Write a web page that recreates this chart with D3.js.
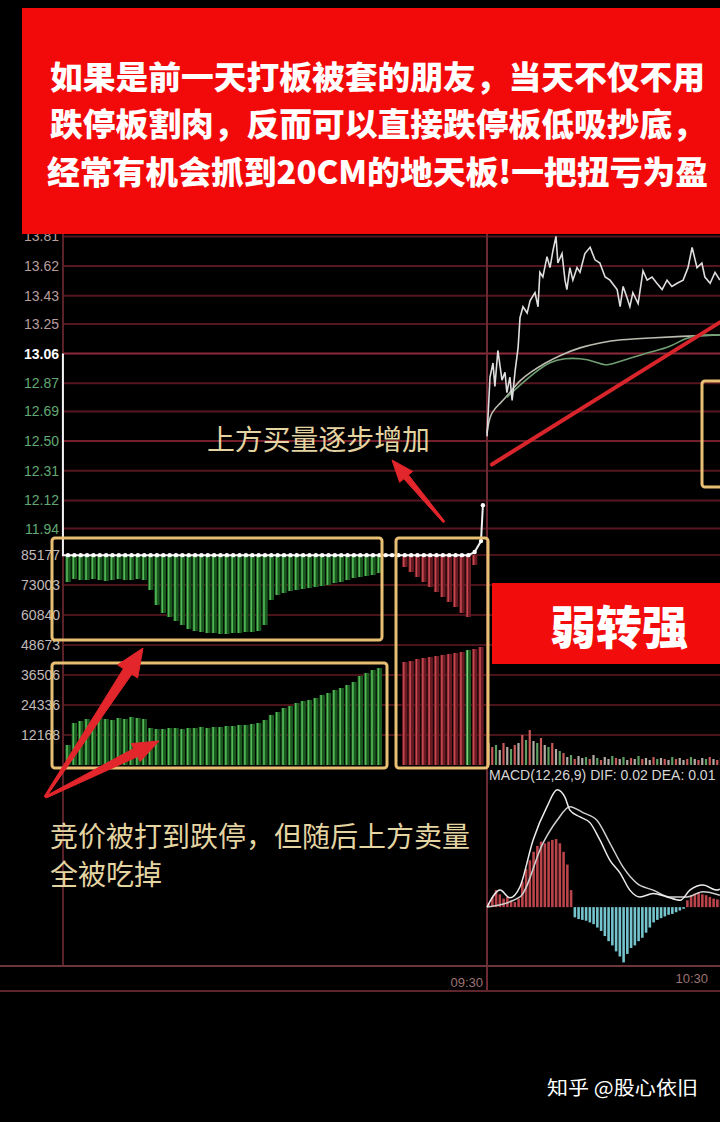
<!DOCTYPE html>
<html>
<head>
<meta charset="utf-8">
<script src="https://cdn.jsdelivr.net/npm/d3@7"></script>
<style>
  html, body { margin: 0; padding: 0; background: #000; }
  svg { display: block; }
</style>
</head>
<body>
<div id="wrapper"></div>
<script>
// ---- data ----
const prevClose = 13.06;
const priceTicks = [13.81, 13.62, 13.43, 13.25, 13.06, 12.87, 12.69, 12.50, 12.31, 12.12, 11.94];
const volTicks = [85177, 73003, 60840, 48673, 36506, 24336, 12168];
const timeLabels = ["09:30", "10:30"];
const timeLabelMinute = [0, 60];

// call auction, one slot per bar (early phase slots 0..49, late phase from slot 53)
const auctionEarlyUnmatched = [
  10950, 9730, 10140, 10140, 9730, 10140, 10550, 10140, 9730, 10140,
  10140, 9730, 10140, 14200, 20280, 23520, 25150, 26770, 28390, 30010,
  30830, 31230, 31640, 31640, 32040, 32040, 31640, 31640, 31230, 31230,
  30830, 28390, 18250, 16220, 15410, 14600, 14200, 13790, 13380, 12980,
  12570, 12170, 11360, 10950, 10140, 9330, 8920, 8520, 8110, 7300
];
const auctionEarlyVolume = [
  8110, 17040, 17850, 18660, 18250, 19060, 18660, 18250, 19060, 18660,
  19470, 19060, 18660, 15010, 14600, 14600, 15010, 15010, 14600, 15010,
  15010, 15410, 15010, 15410, 15410, 15820, 15820, 16220, 16220, 16630,
  17040, 18250, 20280, 21500, 23120, 23930, 25150, 25960, 26360, 27180,
  28390, 29200, 30420, 31230, 32450, 33660, 36100, 37320, 38530, 39340
];
const auctionLateStart = 53;
const auctionLateUnmatched = [4870, 6900, 8920, 10950, 12980, 15010, 17040, 19060, 21090, 23520, 25150, 4060, 0];
const auctionLateVolume = [41780, 42180, 42990, 43400, 43800, 44210, 44620, 45020, 45430, 45830, 46640, 47050, 47860];
const auctionLateUp = [true, true, true, true, true, true, true, true, true, true, false, true, true];
const auctionPrice = [
  11.77, 11.77, 11.77, 11.77, 11.77, 11.77, 11.77, 11.77, 11.77, 11.77,
  11.77, 11.77, 11.77, 11.77, 11.77, 11.77, 11.77, 11.77, 11.77, 11.77,
  11.77, 11.77, 11.77, 11.77, 11.77, 11.77, 11.77, 11.77, 11.77, 11.77,
  11.77, 11.77, 11.77, 11.77, 11.77, 11.77, 11.77, 11.77, 11.77, 11.77,
  11.77, 11.77, 11.77, 11.77, 11.77, 11.77, 11.77, 11.77, 11.77, 11.77,
  11.77, 11.77, 11.77, 11.77, 11.77, 11.77, 11.77, 11.77, 11.77, 11.77,
  11.77, 11.77, 11.77, 11.77, 11.79, 11.86
];
const auctionClose = 12.09;

// continuous trading, minutes after 09:30
const priceMinute = [
  0, 0.4, 0.8, 1.6, 2.1, 2.9, 4.0, 4.8, 5.3, 6.1,
  6.7, 7.5, 8.3, 8.8, 9.6, 10.7, 11.5, 12.8, 13.6, 14.1,
  14.9, 16.0, 16.8, 17.6, 18.4, 18.9, 20.0, 20.8, 21.3, 22.1,
  22.9, 24.0, 24.8, 26.1, 27.5, 28.8, 30.1, 31.5, 32.8, 34.7,
  35.5, 36.3, 37.3, 38.1, 38.9, 40.3, 41.6, 42.7, 44.0, 45.3,
  46.7, 48.0, 49.3, 50.7, 52.3, 53.6, 54.7, 56.0, 57.3, 58.1,
  59.5, 60.8, 62.1
];
const priceValue = [
  12.53, 12.72, 12.91, 13.00, 12.85, 13.08, 12.89, 12.94, 12.81, 12.91,
  12.76, 12.95, 13.10, 13.29, 13.36, 13.32, 13.40, 13.45, 13.36, 13.58,
  13.55, 13.68, 13.61, 13.72, 13.81, 13.64, 13.70, 13.53, 13.47, 13.61,
  13.53, 13.61, 13.58, 13.70, 13.74, 13.66, 13.64, 13.55, 13.53, 13.47,
  13.36, 13.49, 13.42, 13.36, 13.45, 13.38, 13.59, 13.53, 13.55, 13.51,
  13.47, 13.53, 13.49, 13.51, 13.53, 13.61, 13.74, 13.61, 13.64, 13.55,
  13.51, 13.58, 13.53
];
const avgMinute = [0, 0.8, 3.5, 6.1, 8.8, 11.5, 15.5, 19.5, 24.8, 30.1, 35.5, 43.5, 51.5, 62.1];
const avgPrice = [12.55, 12.68, 12.74, 12.81, 12.89, 12.94, 13.00, 13.05, 13.10, 13.13, 13.15, 13.16, 13.17, 13.18];
const maMinute = [5.3, 8.8, 12.8, 16.8, 20.8, 24.8, 28.8, 31.5, 34.1, 38.1, 43.5, 48.8, 52.8, 56.8, 62.1];
const maPrice = [12.78, 12.86, 12.94, 13.01, 13.03, 13.03, 13.01, 12.98, 13.00, 13.03, 13.07, 13.10, 13.16, 13.18, 13.18];

const tradeVolume = [
  8920, 7300, 8110, 6080, 8920, 7300, 6490, 8110, 8920, 12170,
  10140, 14200, 9730, 8920, 10950, 8110, 7300, 8920, 6490, 5680,
  4870, 3240, 4060, 2430, 3650, 2840, 3240, 2430, 4060, 2840,
  2030, 3240, 2430, 3650, 2840, 2430, 3240, 2030, 2840, 2430,
  3650, 2430, 2840, 2030, 3240, 2430, 2840, 2430, 2030, 3240,
  2430, 2840, 2030, 2430, 3240, 2430, 2030, 2840, 2430, 3240,
  2430, 2030, 2840
];
const tradeDir = [
  0, 1, -1, 0, 1, 0, -1, 1, 0, 1,
  -1, 1, 0, -1, 1, 0, -1, 1, 0, -1,
  1, 0, -1, 1, 0, 0, -1, 1, 0, -1,
  1, 0, 0, -1, 1, 0, -1, 0, 1, 0,
  -1, 1, 0, 0, 1, -1, 0, 1, 0, -1,
  1, 0, 0, 1, -1, 0, 1, 0, -1, 1,
  0, 1, 0
];

// MACD(12,26,9)
const macdHist = [
  0.005, 0.012, 0.02, 0.015, 0.01, 0.012, 0.008, 0.006, 0.01,
  0.03, 0.045, 0.055, 0.065, 0.072, 0.077, 0.075, 0.077, 0.079, 0.08, 0.075, 0.065, 0.05, 0.02,
  -0.012, -0.014, -0.015, -0.016, -0.018, -0.02, -0.024, -0.028, -0.034, -0.04,
  -0.045, -0.052, -0.058, -0.065, -0.055, -0.048, -0.045, -0.04, -0.036, -0.03,
  -0.024, -0.018, -0.015, -0.013, -0.011, -0.009, -0.008, -0.006, -0.004, -0.002,
  0.008, 0.014, 0.016, 0.017, 0.015, 0.014, 0.012, 0.01, 0.009, 0.008
];
const difMinute = [0, 3.5, 6.1, 8.8, 12.3, 16.0, 18.7, 20.8, 22.1, 24.8, 27.5, 30.1, 32.8, 35.5, 38.1, 40.8, 44.3, 48.0, 51.5, 54.1, 57.6, 61.3, 62.1];
const difValue = [0, 0.020, 0.011, 0.024, 0.079, 0.118, 0.138, 0.129, 0.114, 0.106, 0.099, 0.079, 0.055, 0.040, 0.020, 0.012, 0.016, 0.012, 0.008, 0.020, 0.026, 0.020, 0.021];
const deaMinute = [0, 8.8, 14.9, 18.7, 22.1, 25.6, 29.3, 32.8, 36.3, 40.0, 44.3, 48.8, 53.3, 57.6, 62.1];
const deaValue = [0, 0.012, 0.075, 0.102, 0.118, 0.111, 0.102, 0.075, 0.047, 0.028, 0.020, 0.012, 0.012, 0.018, 0.014];
const MACD_LABEL = "MACD(12,26,9) DIF: 0.02 DEA: 0.01";

// texts
const bannerLines = [
  "如果是前一天打板被套的朋友，当天不仅不用",
  "跌停板割肉，反而可以直接跌停板低吸抄底，",
  "经常有机会抓到20CM的地天板!一把扭亏为盈"
];
const NOTE_BUY = "上方买量逐步增加";
const NOTE_AUCTION = ["竞价被打到跌停，但随后上方卖量", "全被吃掉"];
const NOTE_STRONG = "弱转强";
const WATERMARK = "知乎 @股心依旧";

// ---- layout ----
const dimensions = {
  width: 720,
  height: 1122,
  chartLeft: 63,
  sessionX: 487,
  right: 720
};

const wrapper = d3.select("#wrapper")
  .append("svg")
  .attr("width", dimensions.width)
  .attr("height", dimensions.height);

wrapper.append("rect")
  .attr("width", dimensions.width)
  .attr("height", dimensions.height)
  .attr("fill", "#000");

// scales
const yPrice = d3.scaleLinear().domain([11.94, 13.81]).range([528.6, 236.4]);
const yVol = d3.scaleLinear().domain([0, 85177]).range([765, 555]);
const xAuction = d3.scaleLinear().domain([0, 65]).range([68, 481]);
const xTime = d3.scaleLinear().domain([0, 60]).range([487, 712]);
const yMacd = d3.scaleLinear().domain([-0.068, 0.1435]).range([965, 785]);

// grid
const grid = wrapper.append("g");
grid.selectAll(".pgrid")
  .data(priceTicks)
  .join("line")
  .attr("x1", dimensions.chartLeft)
  .attr("x2", dimensions.right)
  .attr("y1", d => yPrice(d))
  .attr("y2", d => yPrice(d))
  .attr("stroke", d => d === prevClose ? "#8e2a3a" : (d === 12.50 ? "#74202c" : "#561620"))
  .attr("stroke-width", 2);

grid.selectAll(".vgrid")
  .data(volTicks)
  .join("line")
  .attr("x1", dimensions.chartLeft)
  .attr("x2", dimensions.right)
  .attr("y1", d => yVol(d))
  .attr("y2", d => yVol(d))
  .attr("stroke", "#4a141a")
  .attr("stroke-width", 2);

grid.append("line")
  .attr("x1", dimensions.chartLeft).attr("x2", dimensions.chartLeft)
  .attr("y1", 232).attr("y2", 966)
  .attr("stroke", "#5a2228").attr("stroke-width", 2);
grid.append("line")
  .attr("x1", dimensions.sessionX).attr("x2", dimensions.sessionX)
  .attr("y1", 232).attr("y2", 991)
  .attr("stroke", "#6e2a32").attr("stroke-width", 2);
grid.append("line")
  .attr("x1", 0).attr("x2", dimensions.right)
  .attr("y1", 966).attr("y2", 966)
  .attr("stroke", "#6e343a").attr("stroke-width", 2);
grid.append("line")
  .attr("x1", 0).attr("x2", dimensions.right)
  .attr("y1", 991).attr("y2", 991)
  .attr("stroke", "#5e262c").attr("stroke-width", 2);

// ---- call auction bars ----
const auction = wrapper.append("g");
const VOL_TOP = volTicks[0];
const barW = 5.4;

function drawBars(g, data, slotOf, yTop, yBottom, fillOf, lineOf) {
  const bars = g.selectAll(null).data(data).join("g");
  bars.append("rect")
    .attr("x", (d, i) => xAuction(slotOf(i)) - barW / 2)
    .attr("y", (d, i) => yTop(d, i))
    .attr("width", barW)
    .attr("height", (d, i) => Math.max(0, yBottom(d, i) - yTop(d, i)))
    .attr("fill", (d, i) => fillOf(i));
  bars.append("line")
    .attr("x1", (d, i) => xAuction(slotOf(i)) - 1)
    .attr("x2", (d, i) => xAuction(slotOf(i)) - 1)
    .attr("y1", (d, i) => yTop(d, i))
    .attr("y2", (d, i) => yBottom(d, i))
    .attr("stroke", (d, i) => lineOf(i))
    .attr("stroke-width", 1.6);
}

// unmatched orders hanging from the top line
drawBars(auction, auctionEarlyUnmatched, i => i,
  () => yVol(VOL_TOP), d => yVol(VOL_TOP - d),
  () => "#1b5a1f", () => "#55b95a");
drawBars(auction, auctionLateUnmatched, i => auctionLateStart + i,
  () => yVol(VOL_TOP), d => yVol(VOL_TOP - d),
  () => "#6a1a22", () => "#c4484f");

// matched volume
drawBars(auction, auctionEarlyVolume, i => i,
  d => yVol(d), () => yVol(0),
  () => "#1b5a1f", () => "#55b95a");
drawBars(auction, auctionLateVolume, i => auctionLateStart + i,
  d => yVol(d), () => yVol(0),
  i => auctionLateUp[i] ? "#6a1a22" : "#1b5a1f",
  i => auctionLateUp[i] ? "#c4484f" : "#7fd07f");

// auction price (limit down, then the final match)
const auctionPts = [{ s: -0.8, p: prevClose }, { s: -0.8, p: auctionPrice[0] }]
  .concat(auctionPrice.map((p, i) => ({ s: i, p: p })))
  .concat([{ s: 65.3, p: auctionClose }]);

auction.append("path")
  .datum(auctionPts)
  .attr("fill", "none")
  .attr("stroke", "#f2f2f2")
  .attr("stroke-width", 2)
  .attr("d", d3.line().x(d => xAuction(d.s)).y(d => yPrice(d.p)));

auction.selectAll(".adot")
  .data(auctionPts.filter(d => d.s >= 0))
  .join("circle")
  .attr("cx", d => xAuction(d.s))
  .attr("cy", d => yPrice(d.p))
  .attr("r", 2.2)
  .attr("fill", "#ffffff");

// ---- continuous trading ----
const trade = wrapper.append("g");

trade.selectAll(".tvol")
  .data(tradeVolume)
  .join("rect")
  .attr("x", (d, i) => xTime(i) + 0.4)
  .attr("y", d => yVol(d))
  .attr("width", 2.2)
  .attr("height", d => yVol(0) - yVol(d))
  .attr("fill", (d, i) => tradeDir[i] > 0 ? "#c85a5a" : (tradeDir[i] < 0 ? "#5e9e62" : "#b4aca4"));

trade.selectAll(".hist")
  .data(macdHist)
  .join("rect")
  .attr("x", (d, i) => xTime(i) + 0.3)
  .attr("y", d => yMacd(Math.max(0, d)))
  .attr("width", 2.6)
  .attr("height", d => Math.abs(yMacd(d) - yMacd(0)))
  .attr("fill", d => d >= 0 ? "#b9444a" : "#74c3cd");

const macdLine = d3.line()
  .x(d => xTime(d[0]))
  .y(d => yMacd(d[1]))
  .curve(d3.curveMonotoneX);

trade.append("path")
  .datum(deaMinute.map((m, i) => [m, deaValue[i]]))
  .attr("fill", "none")
  .attr("stroke", "#cfcfcf")
  .attr("stroke-width", 1.5)
  .attr("d", macdLine);

trade.append("path")
  .datum(difMinute.map((m, i) => [m, difValue[i]]))
  .attr("fill", "none")
  .attr("stroke", "#ececec")
  .attr("stroke-width", 1.5)
  .attr("d", macdLine);

const priceLineGen = d3.line()
  .x(d => xTime(d[0]))
  .y(d => yPrice(d[1]));

trade.append("path")
  .datum(avgMinute.map((m, i) => [m, avgPrice[i]]))
  .attr("fill", "none")
  .attr("stroke", "#bdbcb0")
  .attr("stroke-width", 1.6)
  .attr("d", priceLineGen.curve(d3.curveBasis));

trade.append("path")
  .datum(maMinute.map((m, i) => [m, maPrice[i]]))
  .attr("fill", "none")
  .attr("stroke", "#6f9e72")
  .attr("stroke-width", 1.6)
  .attr("d", priceLineGen.curve(d3.curveBasis));

trade.append("path")
  .datum(priceMinute.map((m, i) => [m, priceValue[i]]))
  .attr("fill", "none")
  .attr("stroke", "#dedede")
  .attr("stroke-width", 1.6)
  .attr("d", priceLineGen.curve(d3.curveLinear));

// ---- axis labels ----
const labels = wrapper.append("g")
  .style("font-family", "'Liberation Sans', 'DejaVu Sans', sans-serif")
  .style("font-size", "14px");

labels.selectAll(".plab")
  .data(priceTicks)
  .join("text")
  .attr("x", 59)
  .attr("y", d => yPrice(d) + 5)
  .attr("text-anchor", "end")
  .attr("font-weight", d => d === prevClose ? "bold" : "normal")
  .attr("fill", d => d > prevClose ? "#b89c9c" : (d === prevClose ? "#ffffff" : "#62a874"))
  .text(d => d.toFixed(2));

labels.selectAll(".vlab")
  .data(volTicks)
  .join("text")
  .attr("x", 60)
  .attr("y", d => yVol(d) + 5)
  .attr("text-anchor", "end")
  .attr("fill", "#c2baba")
  .text(d => d);

labels.selectAll(".tlab")
  .data(timeLabels)
  .join("text")
  .attr("x", (d, i) => xTime(timeLabelMinute[i]) - 4)
  .attr("y", (d, i) => i === 0 ? 987 : 983)
  .attr("text-anchor", "end")
  .attr("fill", "#9c7272")
  .style("font-size", "13px")
  .text(d => d);

labels.append("text")
  .attr("x", dimensions.sessionX + 2)
  .attr("y", 780)
  .attr("fill", "#d6d6d6")
  .text(MACD_LABEL);

// ---- annotations ----
const notes = wrapper.append("g");

// trend line drawn over the price panel
notes.append("line")
  .attr("x1", xTime(1.3)).attr("y1", yPrice(12.35))
  .attr("x2", xTime(62.1)).attr("y2", yPrice(13.26))
  .attr("stroke", "#d8242b")
  .attr("stroke-width", 4)
  .attr("stroke-linecap", "round");

const boxes = [
  { x: 52, y: 538, w: 330, h: 102 },
  { x: 52, y: 663, w: 335, h: 105 },
  { x: 396, y: 538, w: 92, h: 230 },
  { x: 702, y: 381, w: 40, h: 106 }
];
notes.selectAll(".box")
  .data(boxes)
  .join("rect")
  .attr("x", d => d.x)
  .attr("y", d => d.y)
  .attr("width", d => d.w)
  .attr("height", d => d.h)
  .attr("rx", 3)
  .attr("fill", "none")
  .attr("stroke", "#e8bf73")
  .attr("stroke-width", 3);

function arrowPoints(a) {
  const dx = a.tip[0] - a.tail[0];
  const dy = a.tip[1] - a.tail[1];
  const len = Math.hypot(dx, dy);
  const ux = dx / len, uy = dy / len;
  const nx = -uy, ny = ux;
  const bx = a.tip[0] - ux * a.headL, by = a.tip[1] - uy * a.headL;
  const p = (x, y, k) => [x + nx * k, y + ny * k];
  return [
    p(a.tail[0], a.tail[1], a.w0 / 2),
    p(bx, by, a.w1 / 2),
    p(bx, by, a.headW / 2),
    a.tip,
    p(bx, by, -a.headW / 2),
    p(bx, by, -a.w1 / 2),
    p(a.tail[0], a.tail[1], -a.w0 / 2)
  ];
}

const arrows = [
  { tail: [45, 797], tip: [143, 648], w0: 2, w1: 10, headW: 24, headL: 28 },
  { tail: [46, 797], tip: [159, 741], w0: 2, w1: 9, headW: 20, headL: 26 },
  { tail: [444, 522], tip: [392, 460], w0: 2, w1: 6, headW: 17, headL: 22 }
];
notes.selectAll(".arrow")
  .data(arrows)
  .join("polygon")
  .attr("points", d => arrowPoints(d).map(q => q.join(",")).join(" "))
  .attr("fill", "#e3262c")
  .attr("stroke", "#e3262c")
  .attr("stroke-width", 1)
  .attr("stroke-linejoin", "round");

const cjk = "'Noto Sans CJK SC', 'Noto Sans', sans-serif";

notes.append("text")
  .attr("x", 207)
  .attr("y", 450)
  .attr("textLength", 223)
  .attr("lengthAdjust", "spacingAndGlyphs")
  .attr("fill", "#e4d4a2")
  .style("font-family", cjk)
  .style("font-size", "28px")
  .text(NOTE_BUY);

notes.selectAll(".auctionNote")
  .data(NOTE_AUCTION)
  .join("text")
  .attr("x", 50)
  .attr("y", (d, i) => 847 + i * 38)
  .attr("textLength", d => d.length * 28)
  .attr("lengthAdjust", "spacingAndGlyphs")
  .attr("fill", "#e4d4a2")
  .style("font-family", cjk)
  .style("font-size", "28px")
  .text(d => d);

// 弱转强 tag
notes.append("rect")
  .attr("x", 492).attr("y", 583)
  .attr("width", 228).attr("height", 81)
  .attr("fill", "#f20c0c");
notes.append("text")
  .attr("x", 550)
  .attr("y", 644)
  .attr("textLength", 138)
  .attr("lengthAdjust", "spacingAndGlyphs")
  .attr("fill", "#ffffff")
  .style("font-family", cjk)
  .style("font-weight", 900)
  .style("font-size", "46px")
  .text(NOTE_STRONG);

// top banner
wrapper.append("rect")
  .attr("x", 22).attr("y", 8)
  .attr("width", 698).attr("height", 226)
  .attr("fill", "#f20a0a");

wrapper.selectAll(".banner")
  .data(bannerLines)
  .join("text")
  .attr("x", (d, i) => i === 2 ? 47 : 50)
  .attr("y", (d, i) => [89, 136, 184][i])
  .attr("textLength", (d, i) => i === 2 ? 661 : 655)
  .attr("lengthAdjust", "spacingAndGlyphs")
  .attr("fill", "#ffffff")
  .style("font-family", cjk)
  .style("font-weight", 900)
  .style("font-size", "32px")
  .text(d => d);

wrapper.append("text")
  .attr("x", 547)
  .attr("y", 1095)
  .attr("textLength", 151)
  .attr("lengthAdjust", "spacingAndGlyphs")
  .attr("fill", "#ffffff")
  .style("font-family", cjk)
  .style("font-size", "19px")
  .text(WATERMARK);
</script>
</body>
</html>
